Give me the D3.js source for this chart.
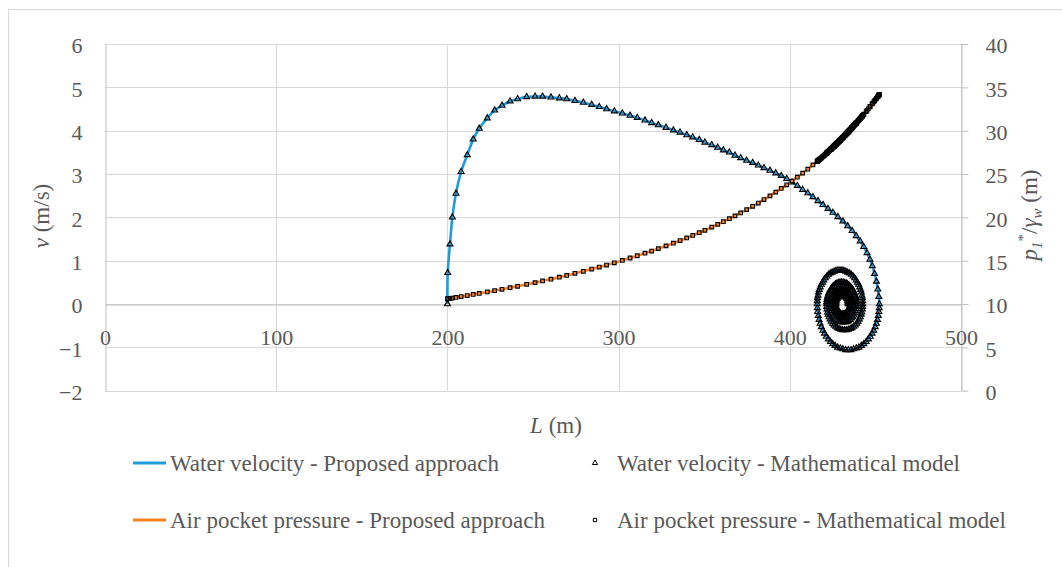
<!DOCTYPE html>
<html>
<head>
<meta charset="utf-8">
<script src="https://cdn.jsdelivr.net/npm/d3@7"></script>
<style>
  html, body { margin: 0; padding: 0; background: #ffffff; }
  svg text { font-family: "Liberation Serif", "Times New Roman", serif; fill: #595959; }
</style>
</head>
<body>
<svg id="chart" width="1062" height="567"></svg>
<script>
// Filling stage: water column length L (m), water velocity v (m/s), air pocket head p1*/γw (m)
const fillL = [200.0, 200.2, 201.5, 202.9, 205.0, 208.0, 211.6, 215.1, 218.6, 223.3, 227.6, 231.9, 236.6, 241.0, 246.3,
  251.2, 255.6, 260.5, 265.4, 269.7, 274.5, 279.4, 284.3, 288.7, 293.0, 297.5, 302.2, 306.7, 310.9, 315.4, 319.3,
  323.2, 327.7, 332.0, 335.9, 339.8, 343.3, 347.1, 350.4, 354.4, 357.9, 361.2, 364.7, 368.0, 371.3, 374.8, 378.3,
  381.6, 384.9, 388.4, 391.8, 395.0, 398.2, 401.3, 404.4, 407.5, 410.5, 413.5, 416.5, 419.4, 422.3, 425.2, 428.1,
  431.0, 433.8, 436.4, 438.8, 441.1, 443.2, 445.1, 446.8, 448.2, 449.5, 450.6, 451.4, 452.0, 452.3];
const fillV = [0.00, 0.72, 1.38, 2.00, 2.55, 3.05, 3.44, 3.80, 4.05, 4.29, 4.47, 4.58, 4.68, 4.73, 4.78,
  4.79, 4.79, 4.77, 4.75, 4.73, 4.69, 4.65, 4.60, 4.55, 4.50, 4.45, 4.40, 4.35, 4.30, 4.24, 4.18,
  4.13, 4.07, 4.01, 3.96, 3.90, 3.85, 3.79, 3.73, 3.67, 3.61, 3.55, 3.50, 3.43, 3.37, 3.31, 3.26,
  3.20, 3.14, 3.08, 3.02, 2.96, 2.89, 2.81, 2.73, 2.64, 2.56, 2.47, 2.38, 2.29, 2.20, 2.11, 2.01,
  1.91, 1.80, 1.69, 1.57, 1.45, 1.32, 1.18, 1.03, 0.88, 0.70, 0.52, 0.34, 0.17, 0.00];
const fillP = [10.60, 10.61, 10.65, 10.69, 10.76, 10.86, 10.98, 11.10, 11.22, 11.39, 11.54, 11.70, 11.88, 12.05, 12.27,
  12.47, 12.66, 12.87, 13.10, 13.30, 13.54, 13.78, 14.03, 14.26, 14.50, 14.76, 15.03, 15.31, 15.57, 15.86, 16.11,
  16.39, 16.71, 17.02, 17.32, 17.62, 17.91, 18.23, 18.51, 18.87, 19.19, 19.50, 19.85, 20.17, 20.51, 20.89, 21.27,
  21.65, 22.05, 22.48, 22.91, 23.34, 23.76, 24.19, 24.63, 25.10, 25.56, 26.05, 26.55, 27.04, 27.56, 28.09, 28.65,
  29.23, 29.80, 30.36, 30.88, 31.40, 31.89, 32.34, 32.76, 33.11, 33.44, 33.73, 33.94, 34.10, 34.18];

// Oscillation stage after the first stop of the water column (one row per half swing)
const oscL = [
  452.23, 452.02, 451.68, 451.21, 450.60, 449.87, 449.02, 448.05, 446.98, 445.82, 444.56, 443.23,
  441.82, 440.36, 438.85, 437.30, 435.73, 434.15, 432.57, 431.00, 429.45, 427.94, 426.48, 425.08,
  423.74, 422.48, 421.32, 420.25, 419.28, 418.43, 417.70, 417.09, 416.62, 416.28, 416.07, 416.00,
  416.05, 416.20, 416.45, 416.80, 417.25, 417.78, 418.41, 419.11, 419.90, 420.75, 421.67, 422.65,
  423.68, 424.75, 425.86, 426.99, 428.14, 429.30, 430.46, 431.61, 432.74, 433.85, 434.92, 435.95,
  436.93, 437.85, 438.70, 439.49, 440.20, 440.82, 441.35, 441.80, 442.15, 442.40, 442.55, 442.60,
  442.54, 442.37, 442.08, 441.69, 441.19, 440.59, 439.89, 439.11, 438.25, 437.33, 436.34, 435.31,
  434.24, 433.15, 432.05, 430.95, 429.86, 428.79, 427.76, 426.78, 425.85, 424.99, 424.21, 423.52,
  422.91, 422.41, 422.02, 421.73, 421.56, 421.50,
  421.55, 421.69, 421.93, 422.26, 422.67, 423.17, 423.75, 424.40, 425.11, 425.88, 426.69, 427.55,
  428.43, 429.34, 430.25, 431.16, 432.07, 432.95, 433.81, 434.63, 435.39, 436.10, 436.75, 437.33,
  437.83, 438.24, 438.57, 438.81, 438.95, 439.00,
  438.94, 438.74, 438.43, 438.00, 437.45, 436.80, 436.07, 435.25, 434.37, 433.44, 432.48, 431.50,
  430.52, 429.56, 428.63, 427.75, 426.93, 426.20, 425.55, 425.00, 424.57, 424.26, 424.06, 424.00,
  424.05, 424.21, 424.48, 424.84, 425.29, 425.83, 426.45, 427.13, 427.86, 428.63, 429.43, 430.25,
  431.07, 431.87, 432.64, 433.38, 434.05, 434.67, 435.21, 435.66, 436.02, 436.29, 436.45, 436.50,
  436.42, 436.18, 435.80, 435.27, 434.63, 433.88, 433.05, 432.16, 431.25, 430.34, 429.45, 428.63,
  427.88, 427.23, 426.70, 426.32, 426.08, 426.00,
  426.07, 426.27, 426.60, 427.05, 427.61, 428.25, 428.96, 429.72, 430.50, 431.28, 432.04, 432.75,
  433.39, 433.95, 434.40, 434.73, 434.93, 435.00,
  434.91, 434.65, 434.24, 433.68, 433.00, 432.24, 431.42, 430.58, 429.76, 429.00, 428.32, 427.76,
  427.35, 427.09, 427.00,
  427.08, 427.30, 427.67, 428.16, 428.75, 429.42, 430.13, 430.87, 431.58, 432.25, 432.84, 433.33,
  433.70, 433.92, 434.00];
const oscV = [
  -0.09, -0.18, -0.27, -0.36, -0.45, -0.53, -0.61, -0.68, -0.75, -0.81, -0.87, -0.92,
  -0.96, -1.00, -1.02, -1.04, -1.06, -1.06, -1.06, -1.04, -1.02, -1.00, -0.96, -0.92,
  -0.87, -0.81, -0.75, -0.68, -0.61, -0.53, -0.45, -0.36, -0.27, -0.18, -0.09, 0.00,
  0.07, 0.14, 0.20, 0.27, 0.33, 0.39, 0.45, 0.50, 0.55, 0.60, 0.64, 0.68,
  0.71, 0.73, 0.75, 0.77, 0.78, 0.78, 0.78, 0.77, 0.75, 0.73, 0.71, 0.68,
  0.64, 0.60, 0.55, 0.50, 0.45, 0.39, 0.33, 0.27, 0.20, 0.14, 0.07, 0.00,
  -0.06, -0.12, -0.19, -0.24, -0.30, -0.35, -0.40, -0.45, -0.49, -0.52, -0.55, -0.57,
  -0.59, -0.60, -0.60, -0.60, -0.59, -0.57, -0.55, -0.52, -0.49, -0.45, -0.40, -0.35,
  -0.30, -0.24, -0.19, -0.12, -0.06, 0.00,
  0.05, 0.10, 0.15, 0.20, 0.25, 0.29, 0.33, 0.37, 0.40, 0.43, 0.46, 0.48,
  0.49, 0.50, 0.50, 0.50, 0.49, 0.48, 0.46, 0.43, 0.40, 0.37, 0.33, 0.29,
  0.25, 0.20, 0.15, 0.10, 0.05, 0.00,
  -0.05, -0.11, -0.16, -0.21, -0.26, -0.30, -0.33, -0.36, -0.39, -0.41, -0.42, -0.42,
  -0.42, -0.41, -0.39, -0.36, -0.33, -0.30, -0.26, -0.21, -0.16, -0.11, -0.05, 0.00,
  0.05, 0.09, 0.13, 0.18, 0.21, 0.25, 0.28, 0.30, 0.32, 0.34, 0.35, 0.35,
  0.35, 0.34, 0.32, 0.30, 0.28, 0.25, 0.21, 0.18, 0.13, 0.09, 0.05, 0.00,
  -0.05, -0.10, -0.15, -0.19, -0.23, -0.26, -0.28, -0.30, -0.30, -0.30, -0.28, -0.26,
  -0.23, -0.19, -0.15, -0.10, -0.05, 0.00,
  0.05, 0.09, 0.13, 0.17, 0.20, 0.23, 0.24, 0.26, 0.26, 0.26, 0.24, 0.23,
  0.20, 0.17, 0.13, 0.09, 0.05, 0.00,
  -0.05, -0.09, -0.14, -0.17, -0.20, -0.22, -0.23, -0.23, -0.22, -0.20, -0.17, -0.14,
  -0.09, -0.05, 0.00,
  0.04, 0.08, 0.12, 0.15, 0.17, 0.19, 0.20, 0.20, 0.19, 0.17, 0.15, 0.12,
  0.08, 0.04, 0.00];
const oscP = [
  34.16, 34.10, 34.02, 33.89, 33.73, 33.54, 33.32, 33.08, 32.81, 32.52, 32.21, 31.90,
  31.57, 31.22, 30.89, 30.55, 30.21, 29.87, 29.55, 29.23, 28.91, 28.62, 28.34, 28.07,
  27.82, 27.59, 27.38, 27.19, 27.02, 26.87, 26.75, 26.65, 26.57, 26.51, 26.47, 26.46,
  26.47, 26.49, 26.54, 26.60, 26.67, 26.76, 26.87, 26.99, 27.12, 27.28, 27.44, 27.62,
  27.81, 28.00, 28.22, 28.44, 28.66, 28.88, 29.11, 29.35, 29.58, 29.81, 30.03, 30.26,
  30.47, 30.67, 30.86, 31.03, 31.19, 31.33, 31.46, 31.56, 31.64, 31.70, 31.74, 31.75,
  31.74, 31.69, 31.63, 31.54, 31.42, 31.28, 31.12, 30.95, 30.76, 30.56, 30.34, 30.12,
  29.89, 29.67, 29.44, 29.22, 28.99, 28.79, 28.59, 28.40, 28.21, 28.05, 27.91, 27.78,
  27.67, 27.58, 27.51, 27.45, 27.42, 27.41,
  27.42, 27.45, 27.49, 27.55, 27.63, 27.72, 27.82, 27.94, 28.07, 28.22, 28.38, 28.54,
  28.71, 28.89, 29.07, 29.26, 29.45, 29.63, 29.80, 29.97, 30.14, 30.29, 30.43, 30.56,
  30.67, 30.76, 30.83, 30.88, 30.91, 30.92,
  30.91, 30.87, 30.80, 30.70, 30.58, 30.44, 30.28, 30.10, 29.92, 29.73, 29.53, 29.33,
  29.13, 28.93, 28.75, 28.58, 28.42, 28.28, 28.16, 28.05, 27.97, 27.91, 27.88, 27.87,
  27.88, 27.91, 27.96, 28.02, 28.11, 28.21, 28.33, 28.46, 28.60, 28.75, 28.91, 29.07,
  29.24, 29.41, 29.56, 29.72, 29.85, 29.98, 30.10, 30.19, 30.27, 30.33, 30.37, 30.38,
  30.36, 30.31, 30.22, 30.11, 29.97, 29.82, 29.65, 29.47, 29.28, 29.09, 28.91, 28.75,
  28.61, 28.48, 28.38, 28.31, 28.26, 28.24,
  28.26, 28.30, 28.36, 28.45, 28.56, 28.68, 28.82, 28.97, 29.12, 29.28, 29.44, 29.59,
  29.72, 29.83, 29.93, 29.99, 30.04, 30.05,
  30.03, 29.98, 29.89, 29.78, 29.64, 29.48, 29.31, 29.14, 28.97, 28.83, 28.69, 28.59,
  28.51, 28.46, 28.44,
  28.45, 28.50, 28.57, 28.66, 28.78, 28.91, 29.05, 29.20, 29.35, 29.48, 29.61, 29.71,
  29.78, 29.83, 29.84];

const xTicks = [0, 100, 200, 300, 400, 500];
const vTicks = [-2, -1, 0, 1, 2, 3, 4, 5, 6];
const pTicks = [0, 5, 10, 15, 20, 25, 30, 35, 40];
const seriesNames = [
  "Water velocity - Proposed approach",
  "Water velocity - Mathematical model",
  "Air pocket pressure - Proposed approach",
  "Air pocket pressure - Mathematical model"
];

const BLUE = "#1f9bd7", ORANGE = "#f5811f", GRID = "#d9d9d9", AXIS = "#bfbfbf";
const FS = 22;

const allL = fillL.concat(oscL), allV = fillV.concat(oscV), allP = fillP.concat(oscP);
const pts = allL.map((d, i) => ({ L: d, v: allV[i], p: allP[i] }));

const svg = d3.select("#chart");
svg.append("rect").attr("x", 8.5).attr("y", 9.5).attr("width", 1100).attr("height", 600)
  .attr("fill", "#fff").attr("stroke", GRID).attr("stroke-width", 1);

const x = d3.scaleLinear().domain([0, 500]).range([105, 961]);
const yV = d3.scaleLinear().domain([-2, 6]).range([390.7, 44]);
const yP = d3.scaleLinear().domain([0, 40]).range([390.7, 44]);
const px = v => Math.round(v) + 0.5;

// grid
const grid = svg.append("g").attr("stroke", GRID).attr("stroke-width", 1);
grid.selectAll(".h").data(vTicks).join("line")
  .attr("x1", x(0)).attr("x2", x(500)).attr("y1", d => px(yV(d))).attr("y2", d => px(yV(d)));
grid.selectAll(".v").data(xTicks.slice(1)).join("line")
  .attr("x1", d => px(x(d))).attr("x2", d => px(x(d))).attr("y1", yV(6)).attr("y2", yV(-2));

function styleAxis(g, showDomain) {
  g.selectAll("text").attr("font-size", FS).attr("fill", "#595959")
    .attr("font-family", "Liberation Serif, Times New Roman, serif");
  g.selectAll(".tick line").attr("stroke", AXIS);
  g.select(".domain").attr("stroke", showDomain ? AXIS : "none");
}

// left axis
svg.append("g").attr("transform", `translate(${px(x(0))},0)`)
  .call(d3.axisLeft(yV).tickValues(vTicks).tickSize(0).tickPadding(23).tickSizeOuter(0))
  .call(g => styleAxis(g, true))
  .call(g => g.selectAll("text").attr("dy", "0.4em"));

// right axis
svg.append("g").attr("transform", `translate(${px(x(500))},0)`)
  .call(d3.axisRight(yP).tickValues(pTicks).tickSize(7).tickPadding(17).tickSizeOuter(0))
  .call(g => styleAxis(g, true))
  .call(g => g.selectAll("text").attr("dy", "0.4em"));

// horizontal axis crossing at v = 0
svg.append("g").attr("transform", `translate(0,${px(yV(0))})`)
  .call(d3.axisBottom(x).tickValues(xTicks).tickSize(0).tickPadding(25).tickSizeOuter(0))
  .call(g => styleAxis(g, true));

// series lines and markers
const lineV = d3.line().x(d => x(d.L)).y(d => yV(d.v)).curve(d3.curveCatmullRom.alpha(0.5));
const lineP = d3.line().x(d => x(d.L)).y(d => yP(d.p)).curve(d3.curveCatmullRom.alpha(0.5));

svg.append("path").datum(pts).attr("d", lineV)
  .attr("fill", "none").attr("stroke", BLUE).attr("stroke-width", 2.6).attr("stroke-linejoin", "round");

const tri = d3.symbol(d3.symbolTriangle, 15);
const sq = d3.symbol(d3.symbolSquare, 13);

svg.append("g").selectAll("path").data(pts).join("path")
  .attr("d", tri).attr("transform", d => `translate(${x(d.L)},${yV(d.v)})`)
  .attr("fill", "none").attr("stroke", "#000").attr("stroke-width", 1.15);

svg.append("path").datum(pts).attr("d", lineP)
  .attr("fill", "none").attr("stroke", ORANGE).attr("stroke-width", 2.6).attr("stroke-linejoin", "round");

svg.append("g").selectAll("path").data(pts).join("path")
  .attr("d", sq).attr("transform", d => `translate(${x(d.L)},${yP(d.p)})`)
  .attr("fill", "none").attr("stroke", "#000").attr("stroke-width", 1.15);

// axis titles
const tLeft = svg.append("text").attr("transform", "translate(49,216) rotate(-90)")
  .attr("text-anchor", "middle").attr("font-size", FS + 1);
tLeft.append("tspan").attr("font-style", "italic").text("v");
tLeft.append("tspan").text(" (m/s)");

const tRight = svg.append("text").attr("transform", "translate(1037,215) rotate(-90)")
  .attr("text-anchor", "middle").attr("font-size", FS + 1);
tRight.append("tspan").attr("font-style", "italic").text("p");
tRight.append("tspan").attr("font-style", "italic").attr("font-size", 15).attr("dy", 5).text("1");
tRight.append("tspan").attr("font-size", 15).attr("dy", -14).text("*");
tRight.append("tspan").attr("dy", 9).text("/");
tRight.append("tspan").attr("font-style", "italic").text("γ");
tRight.append("tspan").attr("font-style", "italic").attr("font-size", 15).attr("dy", 5).text("w");
tRight.append("tspan").attr("dy", -5).text(" (m)");

const tX = svg.append("text").attr("x", 556).attr("y", 433)
  .attr("text-anchor", "middle").attr("font-size", FS + 1);
tX.append("tspan").attr("font-style", "italic").text("L");
tX.append("tspan").text(" (m)");

// legend
const legend = svg.append("g").attr("font-size", FS + 1);
const rows = [463, 520];
[0, 2].forEach((si, r) => {
  legend.append("line").attr("x1", 133).attr("x2", 166).attr("y1", rows[r]).attr("y2", rows[r])
    .attr("stroke", r === 0 ? BLUE : ORANGE).attr("stroke-width", 3);
  legend.append("text").attr("x", 170).attr("y", rows[r] + 8).text(seriesNames[si]);
});
legend.append("path").attr("d", d3.symbol(d3.symbolTriangle, 12)())
  .attr("transform", `translate(595,${rows[0]})`).attr("fill", "#fff").attr("stroke", "#000").attr("stroke-width", 1);
legend.append("path").attr("d", d3.symbol(d3.symbolSquare, 11)())
  .attr("transform", `translate(595,${rows[1]})`).attr("fill", "#fff").attr("stroke", "#000").attr("stroke-width", 1);
legend.append("text").attr("x", 617).attr("y", rows[0] + 8).text(seriesNames[1]);
legend.append("text").attr("x", 617).attr("y", rows[1] + 8).text(seriesNames[3]);
</script>
</body>
</html>
